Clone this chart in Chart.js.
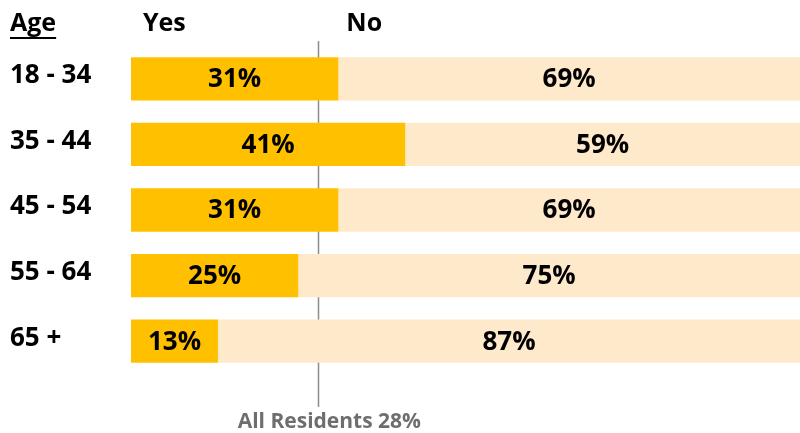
<!DOCTYPE html>
<html>
<head>
<meta charset="utf-8">
<script src="https://cdn.jsdelivr.net/npm/chart.js@4/dist/chart.umd.min.js"></script>
<style>
  html, body { margin: 0; padding: 0; background: #fff; }
  #wrap { width: 800px; height: 433px; position: relative; }
</style>
</head>
<body>
<div id="wrap"><canvas id="ageChart"></canvas></div>
<script>
// Survey answers by age group (percent)
const ageGroups = ['18 - 34', '35 - 44', '45 - 54', '55 - 64', '65 +'];
const yesValues = [31, 41, 31, 25, 13];
const noValues = [69, 59, 69, 75, 87];
const seriesNames = ['Yes', 'No'];
const axisTitle = 'Age';
const allResidents = 28;
const allResidentsLabel = 'All Residents 28%';

const FONT = '"Open Sans", "DejaVu Sans", sans-serif';

// reference line sits behind the bars
const refLine = {
  id: 'refLine',
  beforeDatasetsDraw(chart) {
    const { ctx, scales: { x } } = chart;
    const px = Math.round(x.getPixelForValue(allResidents)) + 0.5;
    ctx.save();
    ctx.strokeStyle = '#8c8c8c';
    ctx.lineWidth = 1.5;
    ctx.beginPath();
    ctx.moveTo(px, 41);
    ctx.lineTo(px, 407);
    ctx.stroke();
    ctx.restore();
  }
};

// values inside bars, category labels, headers and the reference caption
const textLayer = {
  id: 'textLayer',
  afterDatasetsDraw(chart) {
    const { ctx, chartArea, scales: { x, y } } = chart;
    ctx.save();
    ctx.textBaseline = 'middle';

    ctx.font = 'bold 26px ' + FONT;
    ctx.fillStyle = '#000';
    ctx.textAlign = 'center';
    chart.data.datasets.forEach((ds, di) => {
      chart.getDatasetMeta(di).data.forEach((bar, i) => {
        const cx = (bar.base + bar.x) / 2;
        ctx.fillText(ds.data[i] + '%', cx, bar.y + 1);
      });
    });

    ctx.font = 'bold 26px ' + FONT;
    ctx.textAlign = 'left';
    ageGroups.forEach((g, i) => {
      ctx.fillText(g, 10, y.getPixelForValue(i) - 3);
    });

    // headers
    ctx.font = 'bold 25px ' + FONT;
    ctx.fillText(axisTitle, 10, 24);
    const w = ctx.measureText(axisTitle).width;
    ctx.fillRect(10, 37, w, 2);
    ctx.fillText(seriesNames[0], chartArea.left + 12, 24);
    ctx.fillText(seriesNames[1], x.getPixelForValue(allResidents) + 28, 24);

    ctx.font = 'bold 21px ' + FONT;
    ctx.fillStyle = '#6e6e6e';
    ctx.textAlign = 'center';
    ctx.fillText(allResidentsLabel, x.getPixelForValue(allResidents) + 11, 422);
    ctx.restore();
  }
};

new Chart(document.getElementById('ageChart'), {
  type: 'bar',
  data: {
    labels: ageGroups,
    datasets: [
      { label: seriesNames[0], data: yesValues, backgroundColor: '#FFC000' },
      { label: seriesNames[1], data: noValues, backgroundColor: '#FFE9CB' }
    ]
  },
  options: {
    indexAxis: 'y',
    responsive: true,
    maintainAspectRatio: false,
    animation: false,
    layout: { padding: { left: 131, right: 0, top: 46, bottom: 59 } },
    datasets: { bar: { barPercentage: 1, categoryPercentage: 0.66, borderWidth: 0 } },
    scales: {
      x: { display: false, stacked: true, min: 0, max: 100 },
      y: { display: false, stacked: true }
    },
    plugins: { legend: { display: false }, tooltip: { enabled: false } }
  },
  plugins: [refLine, textLayer]
});
</script>
</body>
</html>
